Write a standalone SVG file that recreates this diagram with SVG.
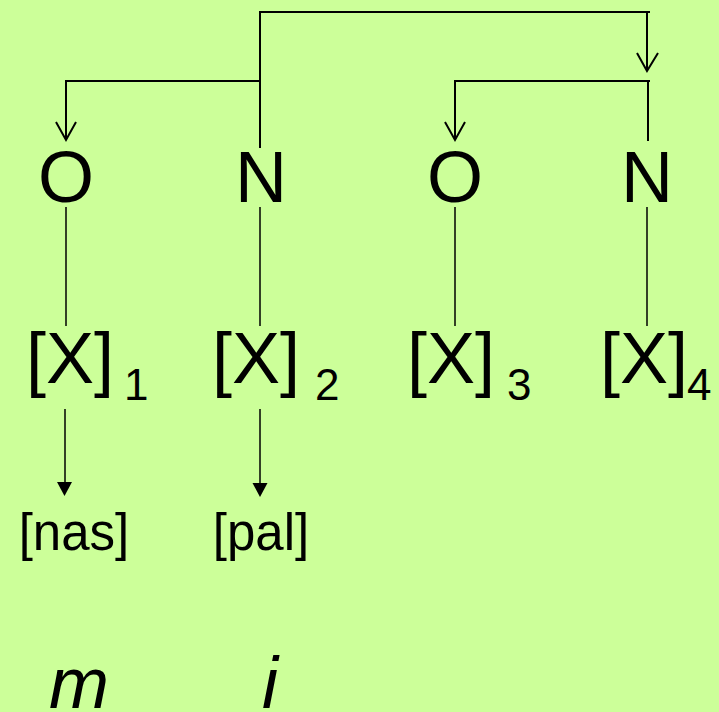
<svg xmlns="http://www.w3.org/2000/svg" width="719" height="712" viewBox="0 0 719 712">
<style>
text{font-family:"Liberation Sans",Arial,sans-serif;fill:#000}
.big{font-size:72px}
.sub{font-size:44px}
.mid{font-size:51px}
.it{font-size:72px;font-style:italic}
.ln{stroke:#000;stroke-width:2;fill:none}
.th{stroke:#000;stroke-width:1.5;fill:none}
</style>
<rect width="719" height="712" fill="#CCFF99"/>
<g id="connectors">
<polyline class="ln" points="260,148 260,12 650,12"/>
<line class="ln" x1="647" y1="12" x2="647" y2="70"/>
<polyline class="ln" points="637,53 647,71 658,53"/>
<polyline class="ln" points="260,81 66,81 66,139"/>
<polyline class="ln" points="56,122 66,140 76,122"/>
<polyline class="ln" points="650,81 455,81 455,139"/>
<polyline class="ln" points="445,122 455,140 465,122"/>
<line class="ln" x1="648" y1="81" x2="648" y2="141"/>
<line class="th" x1="66" y1="207" x2="66" y2="326"/>
<line class="th" x1="260" y1="207" x2="260" y2="326"/>
<line class="th" x1="455" y1="207" x2="455" y2="326"/>
<line class="th" x1="647" y1="207" x2="647" y2="326"/>
<line class="th" x1="65" y1="409" x2="65" y2="484"/>
<polygon points="57,482 72,482 64.5,496"/>
<line class="th" x1="260" y1="409" x2="260" y2="484"/>
<polygon points="252.5,483 267.5,483 260,497"/>
</g>
<g id="O1"><text class="big" x="66" y="202" text-anchor="middle">O</text></g>
<g id="N2"><text class="big" x="261" y="202" text-anchor="middle">N</text></g>
<g id="O3"><text class="big" x="455" y="202" text-anchor="middle">O</text></g>
<g id="N4"><text class="big" x="647" y="202" text-anchor="middle">N</text></g>
<g id="X1"><text class="big" x="70" y="383" text-anchor="middle">[X]</text><text class="sub" x="124" y="400">1</text></g>
<g id="X2"><text class="big" x="256" y="383" text-anchor="middle">[X]</text><text class="sub" x="315" y="400">2</text></g>
<g id="X3"><text class="big" x="451" y="383" text-anchor="middle">[X]</text><text class="sub" x="507" y="400">3</text></g>
<g id="X4"><text class="big" x="644" y="383" text-anchor="middle">[X]</text><text class="sub" x="687" y="400">4</text></g>
<g id="nas"><text class="mid" x="74" y="550" text-anchor="middle">[nas]</text></g>
<g id="pal"><text class="mid" x="261" y="550" text-anchor="middle">[pal]</text></g>
<g id="m"><text class="it" x="79" y="708" text-anchor="middle">m</text></g>
<g id="i"><text class="it" x="270" y="708" text-anchor="middle">i</text></g>
</svg>
